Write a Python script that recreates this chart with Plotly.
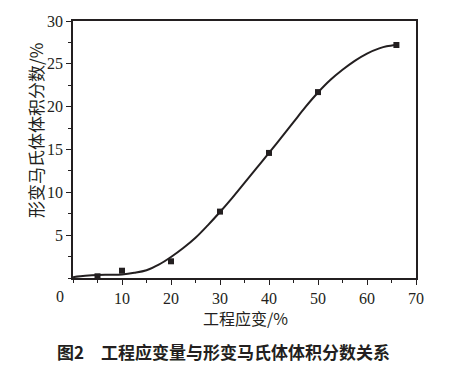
import plotly.graph_objects as go

# measured points
strain = [5, 10, 20, 30, 40, 50, 66]
fraction = [0.2, 0.85, 1.95, 7.75, 14.6, 21.7, 27.2]

# fitted curve
curve_x = [0, 2.5, 5, 7.5, 10, 12.5, 15, 17.5, 20, 22.5, 25, 27.5, 30, 32.5, 35,
           37.5, 40, 42.5, 45, 47.5, 50, 52.5, 55, 57.5, 60, 62.5, 64, 66]
curve_y = [0.1, 0.25, 0.35, 0.38, 0.42, 0.6, 0.9, 1.55, 2.45, 3.5, 4.7, 6.15, 7.7, 9.35, 11.1,
           12.85, 14.6, 16.4, 18.2, 20.0, 21.65, 23.1, 24.3, 25.35, 26.2, 26.8, 27.05, 27.2]

x_ticks = [10, 20, 30, 40, 50, 60, 70]
y_ticks = [5, 10, 15, 20, 25, 30]

ink = "#231f20"
serif = "Liberation Serif"
cjk = "Noto Sans CJK SC"

L, R, T, B = 73, 39, 21, 95
W, H = 455, 373
pw, ph = W - L - R, H - T - B


def px(xp):
    return (xp - L) / pw


def py(yp):
    return (H - B - yp) / ph


fig = go.Figure()
fig.add_trace(go.Scatter(x=curve_x, y=curve_y, mode="lines",
                         line=dict(color=ink, width=2, shape="spline", smoothing=1.0),
                         hoverinfo="skip", showlegend=False))
fig.add_trace(go.Scatter(x=strain, y=fraction, mode="markers",
                         marker=dict(symbol="square", size=6, color=ink),
                         showlegend=False))

fig.update_layout(
    width=W, height=H,
    margin=dict(l=L, r=R, t=T, b=B),
    paper_bgcolor="white", plot_bgcolor="white",
    showlegend=False,
    xaxis=dict(range=[0, 70], tickvals=x_ticks, showgrid=False, zeroline=False,
               showline=True, linecolor=ink, linewidth=1.5, mirror=True,
               ticks="outside", ticklen=5, tickwidth=1.2, tickcolor=ink,
               minor=dict(dtick=5, tick0=0, ticks="outside", ticklen=3, tickcolor=ink, tickwidth=1),
               tickfont=dict(family=serif, size=16, color=ink)),
    yaxis=dict(range=[0, 30], tickvals=y_ticks, showgrid=False, zeroline=False,
               showline=True, linecolor=ink, linewidth=1.5, mirror=True,
               ticks="outside", ticklen=5, tickwidth=1.2, tickcolor=ink,
               minor=dict(dtick=2.5, tick0=0, ticks="outside", ticklen=3, tickcolor=ink, tickwidth=1),
               tickfont=dict(family=serif, size=16, color=ink)),
    annotations=[
        dict(text="0", xref="paper", yref="paper", x=px(60), y=0, yanchor="top", xanchor="center",
             yshift=-8, showarrow=False, font=dict(family=serif, size=16, color=ink)),
        dict(text="工程应变/%", xref="paper", yref="paper", x=px(245), y=py(318),
             xanchor="center", yanchor="middle", showarrow=False,
             font=dict(family=cjk, size=16, color=ink)),
        dict(text="形变马氏体体积分数/%", xref="paper", yref="paper", x=px(35), y=py(131),
             xanchor="center", yanchor="middle", showarrow=False, textangle=-90,
             font=dict(family=cjk, size=17, color=ink)),
        dict(text="<b>图2　工程应变量与形变马氏体体积分数关系</b>", xref="paper", yref="paper",
             x=px(223), y=py(352), xanchor="center", yanchor="middle",
             showarrow=False, font=dict(family=cjk, size=17, color=ink)),
    ],
)

fig.write_html("out.html", config={"displayModeBar": False},
               post_script="document.body.style.margin='0';")
